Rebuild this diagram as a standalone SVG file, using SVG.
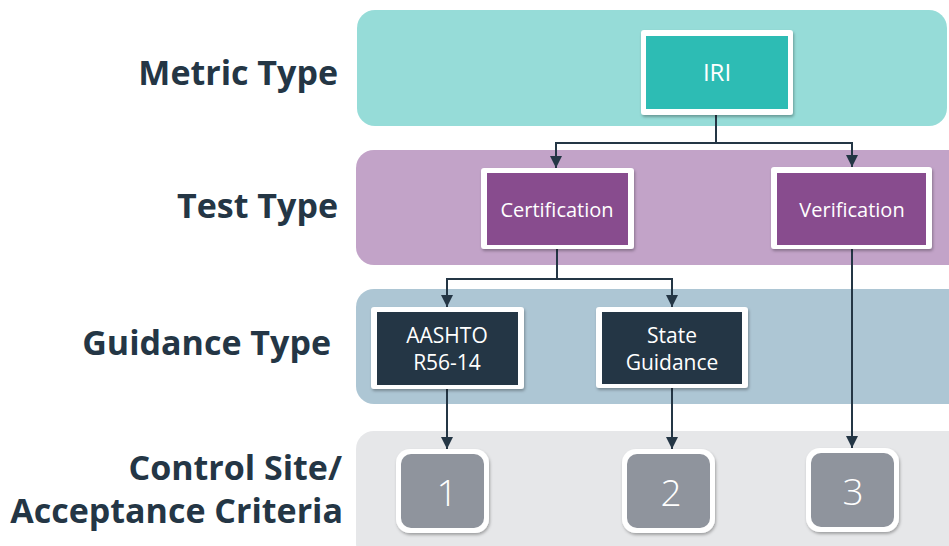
<svg xmlns="http://www.w3.org/2000/svg" width="949" height="546" viewBox="0 0 949 546">
<defs>
<filter id="sh" x="-10%" y="-10%" width="130%" height="130%">
<feDropShadow dx="1" dy="2" stdDeviation="1.5" flood-color="#000" flood-opacity="0.3"/>
</filter>
<marker id="ah" viewBox="0 0 12 12" refX="12" refY="6" markerWidth="12" markerHeight="12" orient="auto" markerUnits="userSpaceOnUse">
<path d="M0,0 L12,6 L0,12 z" fill="#243645"/>
</marker>
</defs>
<style>
.lbl{font-family:"Open Sans","Liberation Sans",sans-serif;font-weight:bold;font-size:34px;fill:#243645;text-anchor:end}
.ntx{font-family:"Open Sans","Liberation Sans",sans-serif;font-size:20px;fill:#ffffff;text-anchor:middle}
.big{font-size:24px}
.mid{font-size:21px}
.num{font-family:"Open Sans","Liberation Sans",sans-serif;font-weight:300;font-size:37px;fill:#ffffff;text-anchor:middle}
.outer{fill:#ffffff;filter:url(#sh)}
.con{fill:none;stroke:#243645;stroke-width:2}
</style>
<rect width="949" height="546" fill="#ffffff"/>
<g id="bands">
<rect x="357" y="10" width="590" height="116" rx="18" fill="#96dcd8"/>
<rect x="356" y="150" width="620" height="115" rx="18" fill="#c2a3c8"/>
<rect x="356" y="289" width="620" height="115" rx="18" fill="#adc6d4"/>
<rect x="356" y="431" width="620" height="130" rx="18" fill="#e6e7e9"/>
</g>
<g id="labels">
<text class="lbl" x="338" y="85">Metric Type</text>
<text class="lbl" x="338" y="218">Test Type</text>
<text class="lbl" x="331" y="355">Guidance Type</text>
<text class="lbl" x="342" y="480">Control Site/</text>
<text class="lbl" x="343" y="523">Acceptance Criteria</text>
</g>
<g id="connectors">
<path class="con" d="M716,115 V143 M556,143 H852"/>
<path class="con" d="M556,142 V168" marker-end="url(#ah)"/>
<path class="con" d="M852,142 V167" marker-end="url(#ah)"/>
<path class="con" d="M557,249 V279 M447,279 H672"/>
<path class="con" d="M447,278 V307" marker-end="url(#ah)"/>
<path class="con" d="M672,278 V307" marker-end="url(#ah)"/>
<path class="con" d="M852,249 V448" marker-end="url(#ah)"/>
<path class="con" d="M447,389 V449" marker-end="url(#ah)"/>
<path class="con" d="M672,388 V449" marker-end="url(#ah)"/>
</g>
<g id="node-iri">
<rect class="outer" x="641" y="30" width="152" height="85" rx="3"/>
<rect x="646" y="36" width="142" height="73" fill="#2dbcb4"/>
<text class="ntx big" x="717" y="81">IRI</text>
</g>
<g id="node-certification">
<rect class="outer" x="481" y="168" width="153" height="81" rx="3"/>
<rect x="487" y="173" width="141" height="72" fill="#884c8e"/>
<text class="ntx" x="557" y="217">Certification</text>
</g>
<g id="node-verification">
<rect class="outer" x="771" y="167" width="161" height="82" rx="3"/>
<rect x="777" y="173" width="149" height="72" fill="#884c8e"/>
<text class="ntx" x="852" y="217">Verification</text>
</g>
<g id="node-aashto">
<rect class="outer" x="371" y="307" width="153" height="82" rx="3"/>
<rect x="377" y="312" width="141" height="73" fill="#243645"/>
<text class="ntx mid" x="447" y="343">AASHTO</text>
<text class="ntx mid" x="447" y="370">R56-14</text>
</g>
<g id="node-state">
<rect class="outer" x="596" y="307" width="152" height="81" rx="3"/>
<rect x="602" y="312" width="140" height="72" fill="#243645"/>
<text class="ntx mid" x="672" y="343">State</text>
<text class="ntx mid" x="672" y="370">Guidance</text>
</g>
<g id="node-1">
<rect class="outer" x="396" y="449" width="93" height="84" rx="14"/>
<rect x="401" y="454" width="83" height="74" rx="10" fill="#8f949d"/>
<text class="num" x="447" y="506">1</text>
</g>
<g id="node-2">
<rect class="outer" x="622" y="449" width="93" height="84" rx="14"/>
<rect x="627" y="454" width="83" height="74" rx="10" fill="#8f949d"/>
<text class="num" x="671" y="506">2</text>
</g>
<g id="node-3">
<rect class="outer" x="806" y="448" width="93" height="84" rx="14"/>
<rect x="811" y="453" width="83" height="74" rx="10" fill="#8f949d"/>
<text class="num" x="853" y="505">3</text>
</g>
</svg>
